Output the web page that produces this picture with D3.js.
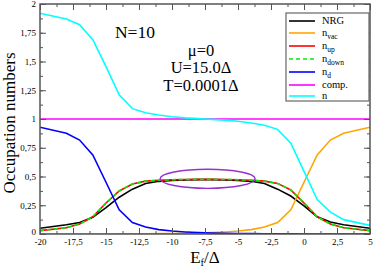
<!DOCTYPE html>
<html>
<head>
<meta charset="utf-8">
<script src="https://cdn.jsdelivr.net/npm/d3@7"></script>
<style>
  body { margin: 0; background: #fff; }
  text { font-family: "Liberation Serif", "DejaVu Serif", serif; }
</style>
</head>
<body>
<div class="canvas"></div>
<script>
// ---- data ----
const E      = [-20, -18, -17, -16, -15, -14, -13, -12, -11, -10, -9, -8, -7.5, -7, -6, -5, -4, -3, -2, -1, 0, 1, 2, 3, 5];
const nrg    = [0.05, 0.08, 0.10, 0.145, 0.23, 0.32, 0.39, 0.44, 0.458, 0.466, 0.471, 0.473, 0.474, 0.473, 0.471, 0.466, 0.458, 0.44, 0.39, 0.33, 0.245, 0.15, 0.105, 0.08, 0.05];
const nVac   = [0, 0, 0, 0, 0, 0.001, 0.001, 0.002, 0.003, 0.004, 0.006, 0.008, 0.01, 0.012, 0.018, 0.026, 0.038, 0.06, 0.10, 0.21, 0.45, 0.687, 0.817, 0.876, 0.928];
const nUp    = [0.029, 0.055, 0.087, 0.15, 0.27, 0.374, 0.435, 0.46, 0.468, 0.472, 0.474, 0.475, 0.475, 0.475, 0.474, 0.472, 0.468, 0.46, 0.44, 0.383, 0.27, 0.15, 0.087, 0.055, 0.029];
const nDown  = [0.029, 0.055, 0.087, 0.15, 0.27, 0.374, 0.435, 0.46, 0.468, 0.472, 0.474, 0.475, 0.475, 0.475, 0.474, 0.472, 0.468, 0.46, 0.44, 0.383, 0.27, 0.15, 0.087, 0.055, 0.029];
const nD     = [0.928, 0.876, 0.817, 0.687, 0.45, 0.21, 0.10, 0.06, 0.038, 0.026, 0.018, 0.012, 0.01, 0.008, 0.006, 0.004, 0.003, 0.002, 0.001, 0.001, 0, 0, 0, 0, 0];
const comp   = [1, 1, 1, 1, 1, 1, 1, 1, 1, 1, 1, 1, 1, 1, 1, 1, 1, 1, 1, 1, 1, 1, 1, 1, 1];
const nTot   = [1.92, 1.87, 1.82, 1.69, 1.455, 1.21, 1.09, 1.055, 1.035, 1.02, 1.01, 1.003, 1.0, 0.997, 0.99, 0.98, 0.965, 0.945, 0.91, 0.79, 0.545, 0.30, 0.19, 0.125, 0.075];

const xTicks = [-20, -17.5, -15, -12.5, -10, -7.5, -5, -2.5, 0, 2.5, 5];
const yTicks = [0, 0.25, 0.5, 0.75, 1, 1.25, 1.5, 1.75, 2];

// purple ellipse marking the plateau (centre and half-widths in data units)
const ellCentre = [-7.3, 0.48];
const ellRadius = [3.6, 0.083];

// series table for drawing + legend
const series = [
  { name: 'NRG',  sub: '',     vals: nrg,   color: '#000000', dash: null },
  { name: 'n',    sub: 'vac',  vals: nVac,  color: '#ffa500', dash: null },
  { name: 'n',    sub: 'up',   vals: nUp,   color: '#ff0000', dash: null },
  { name: 'n',    sub: 'down', vals: nDown, color: '#00ee00', dash: '4,3' },
  { name: 'n',    sub: 'd',    vals: nD,    color: '#0000ff', dash: null },
  { name: 'comp.', sub: '',    vals: comp,  color: '#ff00ff', dash: null },
  { name: 'n',    sub: '',     vals: nTot,  color: '#00ffff', dash: null }
];

// ---- layout ----
const W = 374, H = 267;
const plot = { left: 40, right: 370, top: 4, bottom: 234 };

const svg = d3.select('.canvas').append('svg')
  .attr('width', W).attr('height', H);

const x = d3.scaleLinear().domain([-20, 5]).range([plot.left, plot.right]);
const y = d3.scaleLinear().domain([0, 2]).range([plot.bottom, plot.top]);

// comma decimals as in the original
const fmt = d => String(d).replace('.', ',');

svg.append('clipPath').attr('id', 'clip')
  .append('rect')
  .attr('x', plot.left).attr('y', plot.top)
  .attr('width', plot.right - plot.left).attr('height', plot.bottom - plot.top);

// curves
const line = d3.line().x((d, i) => x(E[i])).y(d => y(d));
const curves = svg.append('g').attr('clip-path', 'url(#clip)');
series.forEach(s => {
  curves.append('path')
    .attr('d', line(s.vals))
    .attr('fill', 'none')
    .attr('stroke', s.color)
    .attr('stroke-width', 1.6)
    .attr('stroke-dasharray', s.dash);
});

// ellipse
svg.append('ellipse')
  .attr('cx', x(ellCentre[0])).attr('cy', y(ellCentre[1]))
  .attr('rx', x(ellCentre[0] + ellRadius[0]) - x(ellCentre[0]))
  .attr('ry', y(ellCentre[1]) - y(ellCentre[1] + ellRadius[1]))
  .attr('fill', 'none').attr('stroke', '#9932cc').attr('stroke-width', 1.4);

// axes: ticks point inwards on all four sides
const axisCol = '#555';
const minorX = d3.range(-20, 5.01, 1.25);
const minorY = d3.range(0, 2.01, 0.125);

const gx = svg.append('g').attr('transform', `translate(0,${plot.bottom})`)
  .call(d3.axisBottom(x).tickValues(xTicks).tickSizeInner(-6).tickSizeOuter(0).tickPadding(4.5).tickFormat(fmt));
const gxm = svg.append('g').attr('transform', `translate(0,${plot.bottom})`)
  .call(d3.axisBottom(x).tickValues(minorX).tickSizeInner(-3).tickSizeOuter(0).tickFormat(''));
const gxt = svg.append('g').attr('transform', `translate(0,${plot.top})`)
  .call(d3.axisTop(x).tickValues(xTicks).tickSizeInner(-6).tickSizeOuter(0).tickFormat(''));
const gxtm = svg.append('g').attr('transform', `translate(0,${plot.top})`)
  .call(d3.axisTop(x).tickValues(minorX).tickSizeInner(-3).tickSizeOuter(0).tickFormat(''));

const gy = svg.append('g').attr('transform', `translate(${plot.left},0)`)
  .call(d3.axisLeft(y).tickValues(yTicks).tickSizeInner(-6).tickSizeOuter(0).tickPadding(4).tickFormat(fmt));
const gym = svg.append('g').attr('transform', `translate(${plot.left},0)`)
  .call(d3.axisLeft(y).tickValues(minorY).tickSizeInner(-3).tickSizeOuter(0).tickFormat(''));
const gyr = svg.append('g').attr('transform', `translate(${plot.right},0)`)
  .call(d3.axisRight(y).tickValues(yTicks).tickSizeInner(-6).tickSizeOuter(0).tickFormat(''));
const gyrm = svg.append('g').attr('transform', `translate(${plot.right},0)`)
  .call(d3.axisRight(y).tickValues(minorY).tickSizeInner(-3).tickSizeOuter(0).tickFormat(''));

[gx, gxm, gxt, gxtm, gy, gym, gyr, gyrm].forEach(g => {
  g.select('.domain').remove();
  g.selectAll('line').attr('stroke', axisCol).attr('stroke-width', 1);
  g.selectAll('text').attr('fill', '#000').attr('font-size', 9)
    .attr('font-family', '"Liberation Serif", serif');
});
// lift the "0" label on the y axis a touch so it clears "-20"
gy.selectAll('.tick').filter(d => d === 0).select('text').attr('dy', '0.05em');

// frame
svg.append('rect')
  .attr('x', plot.left).attr('y', plot.top)
  .attr('width', plot.right - plot.left).attr('height', plot.bottom - plot.top)
  .attr('fill', 'none').attr('stroke', axisCol).attr('stroke-width', 1.5);

// axis titles
svg.append('text')
  .attr('transform', `translate(15,${(plot.top + plot.bottom) / 2 + 4}) rotate(-90)`)
  .attr('text-anchor', 'middle').attr('font-size', 17)
  .text('Occupation numbers');

const xl = svg.append('text')
  .attr('x', 205).attr('y', 263)
  .attr('text-anchor', 'middle').attr('font-size', 17);
xl.append('tspan').text('E');
xl.append('tspan').attr('font-size', 10.5).attr('dy', 3).text('f');
xl.append('tspan').attr('dy', -3).text('/Δ');

// annotations
svg.append('text').attr('x', 135).attr('y', 38)
  .attr('text-anchor', 'middle').attr('font-size', 17.5).text('N=10');
const notes = ['μ=0', 'U=15.0Δ', 'T=0.0001Δ'];
svg.selectAll('.note').data(notes).enter().append('text')
  .attr('class', 'note')
  .attr('x', 201).attr('y', (d, i) => 56 + i * 17.4)
  .attr('text-anchor', 'middle').attr('font-size', 16.5)
  .text(d => d);

// legend
const legRows = [21, 33, 46, 59, 72, 85, 96];
const leg = svg.append('g');
leg.append('rect')
  .attr('x', 286).attr('y', 13).attr('width', 83).attr('height', 88)
  .attr('fill', '#fff').attr('stroke', '#666').attr('stroke-width', 1.2);
series.forEach((s, i) => {
  const yy = legRows[i];
  leg.append('line')
    .attr('x1', 289).attr('x2', 315).attr('y1', yy).attr('y2', yy)
    .attr('stroke', s.color).attr('stroke-width', 1.6)
    .attr('stroke-dasharray', s.dash);
  const t = leg.append('text').attr('x', 322).attr('y', yy + 3).attr('font-size', 10.5);
  t.append('tspan').text(s.name);
  if (s.sub) t.append('tspan').attr('font-size', 7.5).attr('dy', 2.5).text(s.sub);
});
</script>
</body>
</html>
